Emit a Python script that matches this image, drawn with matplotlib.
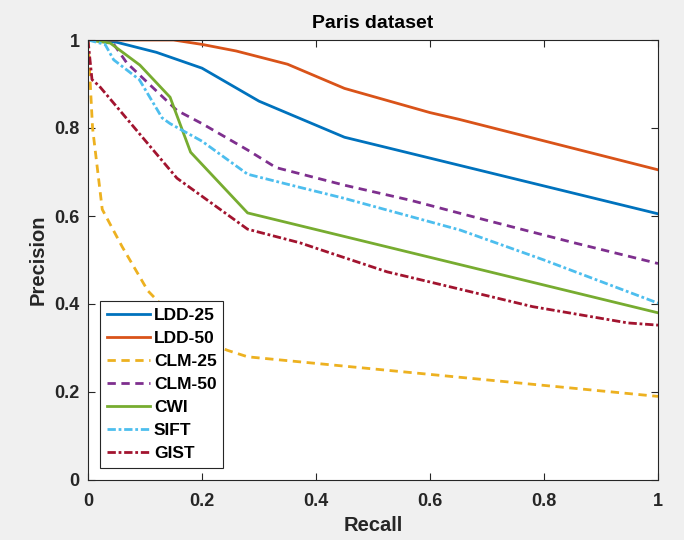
import numpy as np
import matplotlib
matplotlib.use("Agg")
import matplotlib.pyplot as plt

# courbes précision / rappel
ldd25_r = [0, 0.05, 0.12, 0.2, 0.3, 0.45, 1.0]
ldd25_p = [1.0, 0.995, 0.972, 0.936, 0.861, 0.779, 0.605]

ldd50_r = [0, 0.15, 0.2, 0.26, 0.35, 0.45, 0.6, 0.65, 1.0]
ldd50_p = [1.0, 1.0, 0.99, 0.975, 0.945, 0.89, 0.835, 0.82, 0.705]

clm25_r = [0, 0.004, 0.008, 0.025, 0.06, 0.105, 0.15, 0.2, 0.244, 0.28, 1.0]
clm25_p = [1.0, 0.9, 0.8, 0.615, 0.53, 0.43, 0.37, 0.32, 0.295, 0.28, 0.19]

clm50_r = [0, 0.04, 0.068, 0.156, 0.2, 0.28, 0.33, 0.45, 0.565, 0.7, 0.85, 1.0]
clm50_p = [1.0, 1.0, 0.948, 0.84, 0.81, 0.75, 0.71, 0.67, 0.636, 0.59, 0.54, 0.492]

cwi_r = [0, 0.039, 0.091, 0.144, 0.18, 0.28, 1.0]
cwi_p = [1.0, 0.993, 0.943, 0.87, 0.745, 0.607, 0.38]

sift_r = [0, 0.03, 0.045, 0.09, 0.13, 0.144, 0.2, 0.28, 0.372, 0.45, 0.653, 0.8, 1.0]
sift_p = [1.0, 0.99, 0.955, 0.91, 0.823, 0.81, 0.77, 0.695, 0.665, 0.64, 0.568, 0.5, 0.402]

gist_r = [0, 0.007, 0.02, 0.156, 0.28, 0.372, 0.425, 0.525, 0.6, 0.78, 0.947, 1.0]
gist_p = [1.0, 0.91, 0.895, 0.686, 0.57, 0.539, 0.516, 0.473, 0.45, 0.394, 0.357, 0.352]

ticks = [0, 0.2, 0.4, 0.6, 0.8, 1]
tick_labels = ['0', '0.2', '0.4', '0.6', '0.8', '1']

if __name__ == '__main__':
    plt.rcParams['font.family'] = ['Liberation Sans', 'DejaVu Sans']
    plt.rcParams['font.weight'] = 'bold'

    fig = plt.figure(figsize=(6.84, 5.4), dpi=100, facecolor='#f0f0f0')
    ax = fig.add_axes([88 / 684, 60 / 540, 570 / 684, 440 / 540])

    lw = 2.0
    dash = (0, (3, 2))
    dashdot = (0, (3, 1, 1, 1))
    ax.plot(ldd25_r, ldd25_p, color='#0072BD', lw=lw, label='LDD-25')
    ax.plot(ldd50_r, ldd50_p, color='#D95319', lw=lw, label='LDD-50')
    ax.plot(clm25_r, clm25_p, color='#EDB120', lw=lw, ls=dash, label='CLM-25')
    ax.plot(clm50_r, clm50_p, color='#7E2F8E', lw=lw, ls=dash, label='CLM-50')
    ax.plot(cwi_r, cwi_p, color='#77AC30', lw=lw, label='CWI')
    ax.plot(sift_r, sift_p, color='#4DBEEE', lw=lw, ls=dashdot, label='SIFT')
    ax.plot(gist_r, gist_p, color='#A2142F', lw=lw, ls=dashdot, label='GIST')

    ax.set_xlim(0, 1)
    ax.set_ylim(0, 1)
    ax.set_xticks(ticks)
    ax.set_xticklabels(tick_labels)
    ax.set_yticks(ticks)
    ax.set_yticklabels(tick_labels)
    ax.tick_params(direction='in', top=True, right=True, labelsize=13,
                   length=5, width=0.8, colors='#262626')
    ax.tick_params(axis='x', pad=9)
    ax.tick_params(axis='y', pad=6)
    for s in ax.spines.values():
        s.set_linewidth(0.8)
        s.set_color('#262626')

    ax.set_xlabel('Recall', fontsize=14.5, fontweight='bold', color='#262626', labelpad=5)
    ax.set_ylabel('Precision', fontsize=14.5, fontweight='bold', color='#262626', labelpad=5)
    ax.set_title('Paris dataset', fontsize=14, fontweight='bold', color='black', pad=9)

    leg = ax.legend(loc='lower left', prop={'weight': 'bold', 'size': 12.5},
                    fancybox=False, framealpha=1, edgecolor='#262626',
                    handlelength=2.5, borderpad=0.4, labelspacing=0.45,
                    handletextpad=0.2, borderaxespad=0,
                    bbox_to_anchor=(0.021, 0.027))
    leg.get_frame().set_linewidth(0.8)

    fig.savefig('out.png', dpi=100, facecolor=fig.get_facecolor())
